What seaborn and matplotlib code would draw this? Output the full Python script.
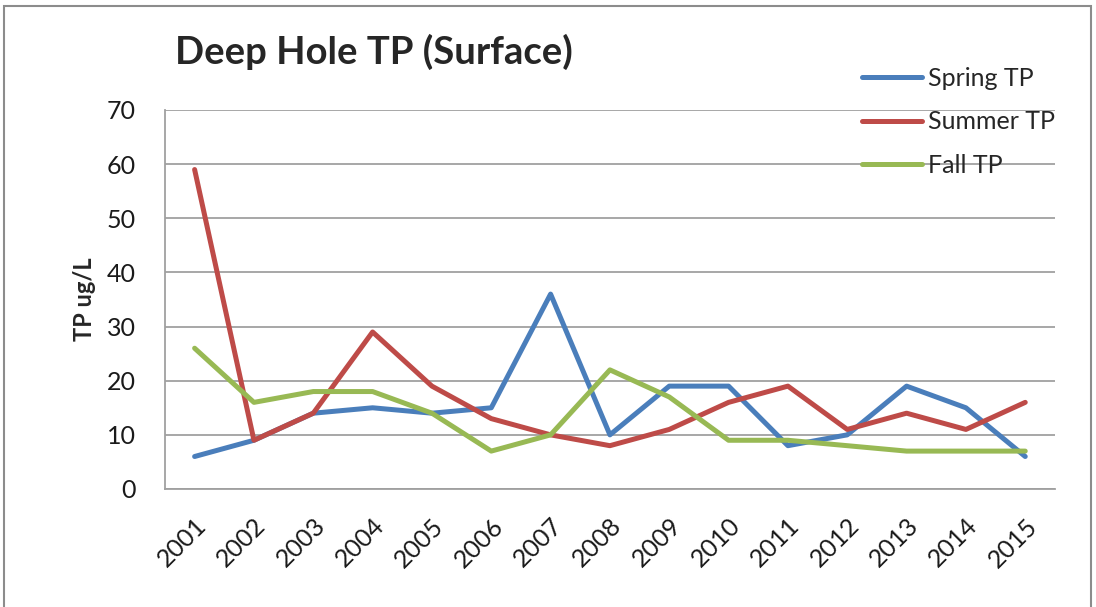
import pandas as pd
import seaborn as sns
import matplotlib.pyplot as plt
from matplotlib.patches import Rectangle

years = ["2001", "2002", "2003", "2004", "2005", "2006", "2007", "2008",
         "2009", "2010", "2011", "2012", "2013", "2014", "2015"]
spring_tp = [6, 9, 14, 15, 14, 15, 36, 10, 19, 19, 8, 10, 19, 15, 6]
summer_tp = [59, 9, 14, 29, 19, 13, 10, 8, 11, 16, 19, 11, 14, 11, 16]
fall_tp = [26, 16, 18, 18, 14, 7, 10, 22, 17, 9, 9, 8, 7, 7, 7]
series_names = ["Spring TP", "Summer TP", "Fall TP"]
colors = ["#4A7EBB", "#BE4B48", "#98B954"]

df = pd.DataFrame({
    "Year": years * 3,
    "TP": spring_tp + summer_tp + fall_tp,
    "Series": [s for s in series_names for _ in years],
})

sns.set_theme(style="white")
plt.rcParams["font.family"] = ["Lato", "DejaVu Sans"]

fig = plt.figure(figsize=(10.96, 6.07), dpi=100)
ax = fig.add_axes([0.1505, 0.1944, 0.812, 0.6244])

sns.lineplot(data=df, x="Year", y="TP", hue="Series", hue_order=series_names,
             palette=colors, linewidth=3.6, sort=False, ax=ax)

ax.set_xlim(-0.5, len(years) - 0.5)
ax.set_ylim(0, 70)
ax.set_yticks(range(0, 71, 10))
ax.yaxis.grid(True, color="#A0A0A0", linewidth=1.3)
ax.set_axisbelow(True)
for side in ["top", "right"]:
    ax.spines[side].set_visible(False)
for side in ["left", "bottom"]:
    ax.spines[side].set_color("#A0A0A0")
    ax.spines[side].set_linewidth(1.3)

ax.tick_params(axis="y", labelsize=18, pad=21, length=0, colors="#1A1A1A")
ax.tick_params(axis="x", labelsize=18, pad=18, length=0, colors="#1A1A1A")
for lab in ax.get_xticklabels():
    lab.set_rotation(45)
    lab.set_ha("right")
    lab.set_rotation_mode("anchor")

ax.set_xlabel("")
ax.set_ylabel("TP ug/L", fontsize=17, fontweight="bold", labelpad=8)

fig.text(0.1597, 0.8946, "Deep Hole TP (Surface)", fontsize=27.5, fontweight="bold",
         ha="left", va="baseline")

handles, labels = ax.get_legend_handles_labels()
ax.legend(handles, labels, loc="upper left", bbox_to_anchor=(0.7865, 0.89),
          bbox_transform=fig.transFigure, frameon=False, fontsize=18,
          handlelength=2.4, handletextpad=0.25, labelspacing=0.82,
          borderpad=0, borderaxespad=0)

fig.add_artist(Rectangle((0.004, -0.02), 0.991, 1.01, transform=fig.transFigure,
                         fill=False, edgecolor="#8C8C8C", linewidth=1.5))

fig.savefig("out.png", dpi=100)
